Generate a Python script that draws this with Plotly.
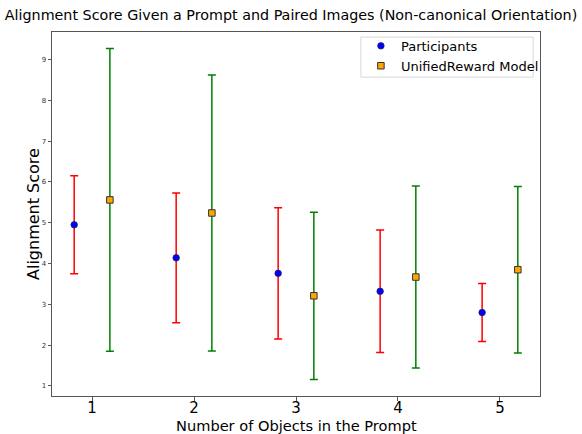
import plotly.graph_objects as go

# Data
num_objects = [1, 2, 3, 4, 5]
participants_mean = [4.95, 4.14, 3.76, 3.32, 2.80]
participants_err = [1.20, 1.59, 1.61, 1.50, 0.71]
model_mean = [5.56, 5.24, 3.21, 3.67, 3.85]
model_err = [3.71, 3.38, 2.05, 2.23, 2.04]
offset = 0.175

x_part = [x - offset for x in num_objects]
x_model = [x + offset for x in num_objects]

fig = go.Figure()
fig.add_trace(go.Scatter(
    x=x_part, y=participants_mean, mode="markers", name="Participants",
    marker=dict(symbol="circle", size=6.5, color="blue", line=dict(color="#222266", width=0.8)),
    error_y=dict(type="data", array=participants_err, color="red", thickness=1.5, width=4),
))
fig.add_trace(go.Scatter(
    x=x_model, y=model_mean, mode="markers", name="UnifiedReward Model",
    marker=dict(symbol="square", size=6.5, color="orange", line=dict(color="#333333", width=1)),
    error_y=dict(type="data", array=model_err, color="green", thickness=1.5, width=4),
))

# matplotlib-style 5% margins
xmin, xmax = min(x_part), max(x_model)
xr = xmax - xmin
ylo = min(m - e for m, e in zip(participants_mean + model_mean, participants_err + model_err))
yhi = max(m + e for m, e in zip(participants_mean + model_mean, participants_err + model_err))
yr = yhi - ylo

axis_common = dict(showline=True, linecolor="#555555", linewidth=1, mirror=True,
                   showgrid=False, zeroline=False, ticks="outside", tickcolor="#555555",
                   ticklen=3.5, automargin=False)

fig.update_layout(
    width=582, height=434,
    margin=dict(l=52, r=42, t=32, b=38),
    paper_bgcolor="white", plot_bgcolor="white",
    font=dict(family="DejaVu Sans", color="black"),
    title=dict(text="Alignment Score Given a Prompt and Paired Images (Non-canonical Orientation)",
               x=0.5, xanchor="center", y=0.965, yanchor="middle", font=dict(size=14.3)),
    xaxis=dict(range=[xmin - 0.05 * xr, xmax + 0.05 * xr], tickvals=num_objects,
               tickfont=dict(size=15), ticklabelstandoff=-6, **axis_common),
    yaxis=dict(range=[ylo - 0.05 * yr, yhi + 0.05 * yr], dtick=1,
               tickfont=dict(size=7, color="#333333"), **axis_common),
    legend=dict(x=0.633, y=1.003, xanchor="left", yanchor="top", bgcolor="rgba(0,0,0,0)",
                borderwidth=0, font=dict(size=13)),
    showlegend=True,
    shapes=[dict(type="rect", xref="paper", yref="paper", x0=0.633, x1=0.986,
                 y0=0.876, y1=0.986, line=dict(color="#d8d8d8", width=1),
                 fillcolor="white", layer="below")],
    annotations=[
        dict(text="Number of Objects in the Prompt", xref="paper", yref="paper",
             x=0.5, y=0, yshift=-29, xanchor="center", yanchor="middle",
             showarrow=False, font=dict(size=14.6)),
        dict(text="Alignment Score", xref="paper", yref="paper", textangle=-90,
             x=0, y=0.5, xshift=-19, xanchor="center", yanchor="middle",
             showarrow=False, font=dict(size=16)),
    ],
)

fig.write_html("out.html", config={"displayModeBar": False},
               post_script="document.body.style.margin='0px';")
